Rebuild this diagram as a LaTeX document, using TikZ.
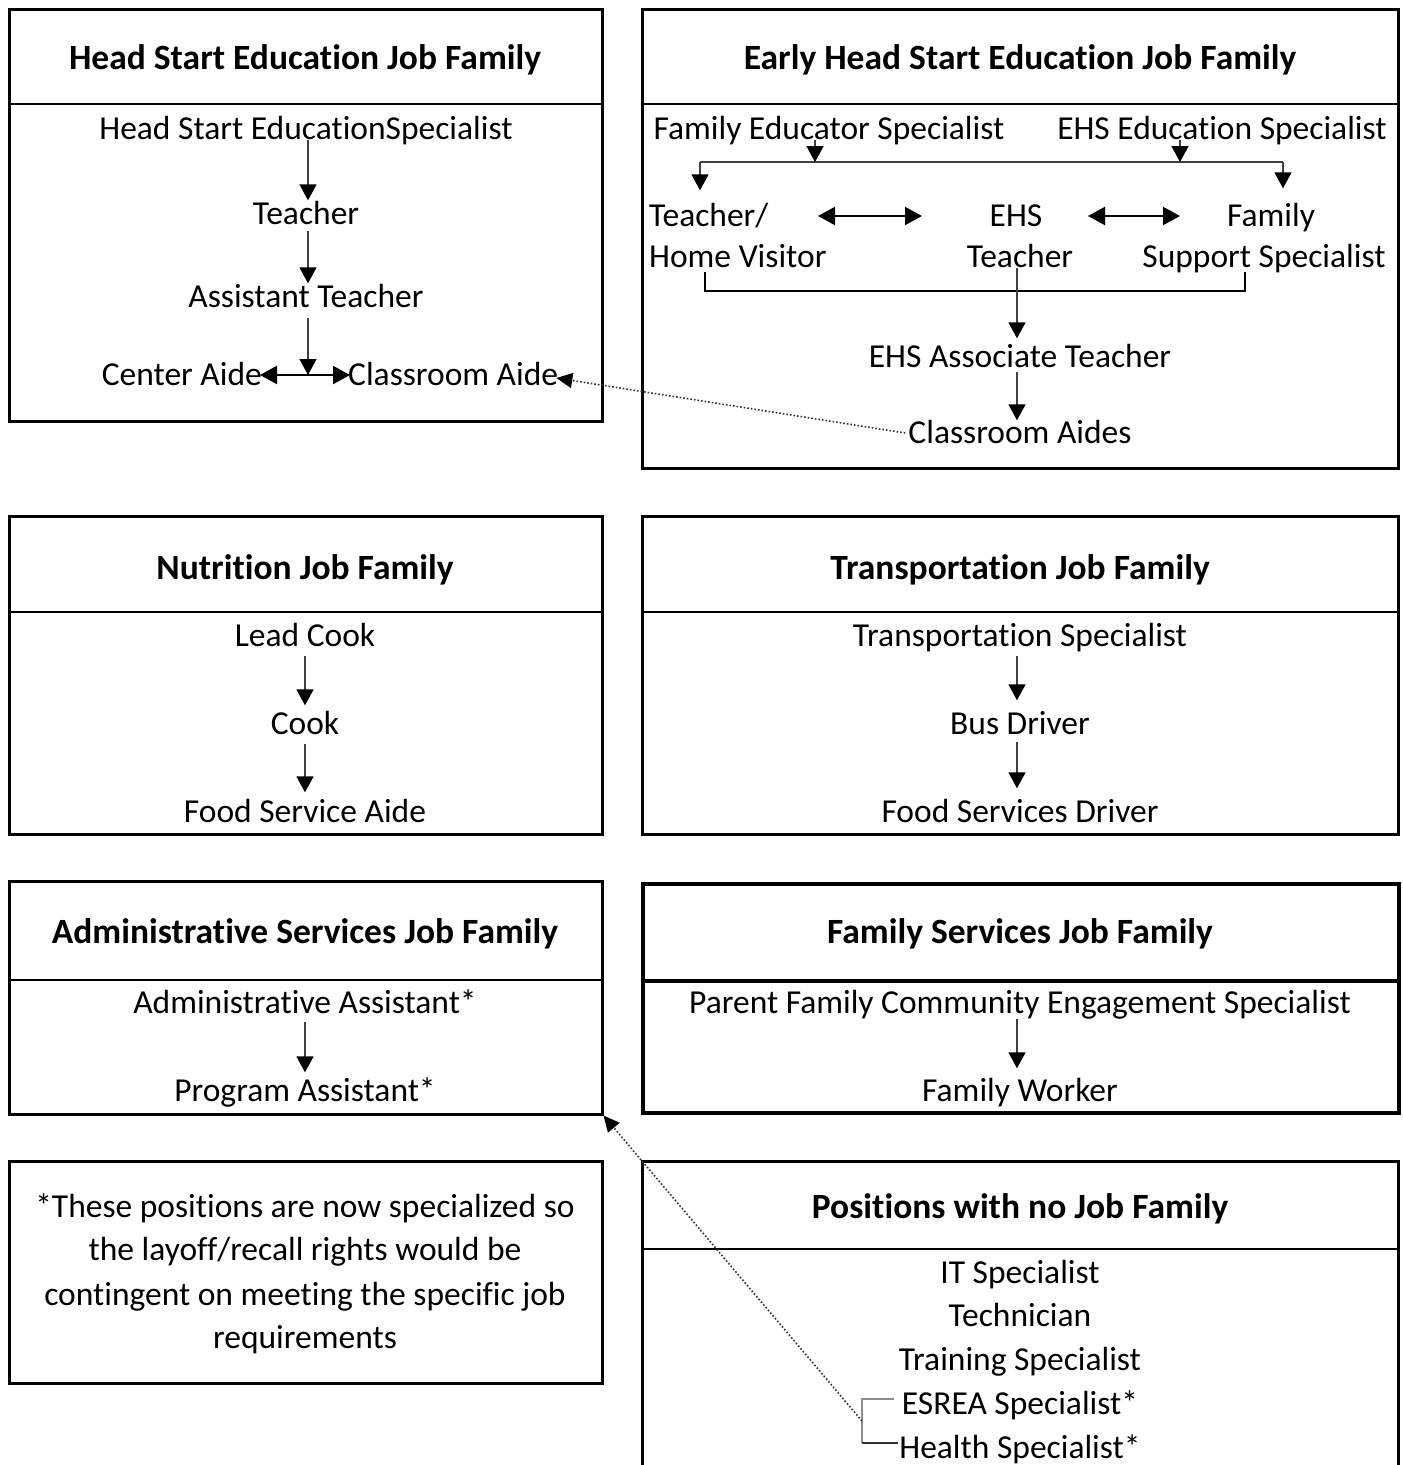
\documentclass[tikz,border=0pt]{standalone}
\usepackage{fontspec}
\setmainfont{Carlito}[Ligatures=NoCommon]
\usetikzlibrary{arrows.meta}
\begin{document}
\begin{tikzpicture}[x=1pt,y=-1pt,
 box/.style={draw,line width=2.5pt,inner sep=0pt,anchor=north west},
 txt/.style={font=\fontsize{33.5}{40}\selectfont,inner sep=0pt,text height=21pt,text depth=0pt},
 ttl/.style={font=\fontsize{35.5}{40}\selectfont\bfseries,inner sep=0pt,text height=22pt,text depth=0pt},
 sep/.style={line width=2pt},
 arr/.style={line width=1.5pt,draw=black!75,-{Triangle[width=17pt,length=16pt,color=black]}},
 darr/.style={line width=2.2pt,{Triangle[width=18pt,length=17pt]}-{Triangle[width=18pt,length=17pt]}},
 dotarr/.style={line width=1.6pt,dotted,draw=black!80,-{Triangle[width=15pt,length=16pt,color=black]}},
 brk/.style={line width=2.2pt,draw=black!45},
]
\useasboundingbox (0,0) rectangle (1403,1465);

% ---------- boxes ----------
\node[box,minimum width=593pt,minimum height=412pt] (hsbox) at (8,8) {};
\node[box,minimum width=756pt,minimum height=459pt] (ehsbox) at (641,8) {};
\node[box,minimum width=593pt,minimum height=318pt] (nutbox) at (8,515) {};
\node[box,minimum width=756pt,minimum height=318pt] (trbox) at (641,515) {};
\node[box,minimum width=593pt,minimum height=233pt] (adbox) at (8,880) {};
\node[box,line width=3.5pt,minimum width=756pt,minimum height=229pt] (fsbox) at (641,882) {};
\node[box,minimum width=593pt,minimum height=222pt] (notebox) at (8,1160) {};
\node[box,minimum width=756pt,minimum height=340pt] (posbox) at (641,1160) {};

% header separators
\draw[sep] (8,104) -- (601,104);
\draw[sep] (641,104) -- (1397,104);
\draw[sep] (8,612) -- (601,612);
\draw[sep] (641,612) -- (1397,612);
\draw[sep] (8,980) -- (601,980);
\draw[line width=3.5pt] (641,981) -- (1397,981);
\draw[sep] (641,1249) -- (1397,1249);

% ---------- titles ----------
\node[ttl] (t1) at (305,58) {Head Start Education Job Family};
\node[ttl] (t2) at (1020,58) {Early Head Start Education Job Family};
\node[ttl] (t3) at (305,568) {Nutrition Job Family};
\node[ttl] (t4) at (1020,568) {Transportation Job Family};
\node[ttl] (t5) at (305,932) {Administrative Services Job Family};
\node[ttl] (t6) at (1020,932) {Family Services Job Family};
\node[ttl] (t8) at (1020,1207) {Positions with no Job Family};

% ---------- Head Start ----------
\node[txt] (hes) at (306,129) {Head Start EducationSpecialist};
\node[txt] (hteach) at (306,214) {Teacher};
\node[txt] (hat) at (306,297) {Assistant Teacher};
\node[txt,anchor=east] (ca) at (262,375) {Center Aide};
\node[txt,anchor=west] (cla) at (348,375) {Classroom Aide};
\coordinate (hx) at (308,0);
\draw[arr] (hes.south -| hx) -- ([yshift=3pt]hteach.north -| hx);
\draw[arr] ([yshift=-6pt]hteach.south -| hx) -- ([yshift=3pt]hat.north -| hx);
\draw[darr] ([xshift=-2pt]ca.east) -- ([xshift=2pt]cla.west);
\draw[arr] ([yshift=-10pt]hat.south -| hx) -- (hx |- ca.east);

% ---------- Early Head Start ----------
\node[txt] (fes) at (829,129) {Family Educator Specialist};
\node[txt] (ees) at (1222,129) {EHS Education Specialist};
\node[txt,anchor=west] (tv1) at (649,216) {Teacher/};
\node[txt,anchor=west] (tv2) at (649,257) {Home Visitor};
\node[txt] (ehs1) at (1016,216) {EHS};
\node[txt] (ehs2) at (1020,257) {Teacher};
\node[txt] (fss1) at (1271,216) {Family};
\node[txt] (fss2) at (1264,257) {Support Specialist};
\node[txt] (eat) at (1020,357) {EHS Associate Teacher};
\node[txt] (cas) at (1020,433) {Classroom Aides};

\coordinate (j1) at (815,162);
\coordinate (j2) at (1180,162);
\coordinate (jl) at (700,162);
\coordinate (jr) at (1283,162);
\draw[line width=1.5pt,draw=black!75] (jl) -- (jr);
\draw[arr] (fes.south -| j1) -- (j1);
\draw[arr] (ees.south -| j2) -- (j2);
\draw[arr] (jl) -- ([yshift=15pt]tv1.north -| jl);
\draw[arr] (jr) -- ([yshift=17pt]fss1.north -| jr);

\coordinate (d1a) at (818,216);
\coordinate (d1b) at (922,216);
\coordinate (d2a) at (1088,216);
\coordinate (d2b) at (1180,216);
\draw[darr] (d1a) -- (d1b);
\draw[darr] (d2a) -- (d2b);

\coordinate (b1) at (705,272);
\coordinate (b2) at (1245,272);
\coordinate (bm) at (1017,291);
\draw[line width=2pt] (b1) -- (b1 |- bm) -- (bm -| b2) -- (b2);
\draw[arr] (ehs2.south -| bm) -- ([yshift=8pt]eat.north -| bm);
\draw[arr] ([yshift=-4pt]eat.south -| bm) -- ([yshift=2pt]cas.north -| bm);

\draw[dotarr] ([xshift=-3pt]cas.west) -- ([xshift=-2pt,yshift=-3pt]cla.east);

% ---------- Nutrition ----------
\node[txt] (lc) at (305,636) {Lead Cook};
\node[txt] (cook) at (305,724) {Cook};
\node[txt] (fsa) at (305,812) {Food Service Aide};
\draw[arr] ([yshift=-9pt]lc.south) -- ([yshift=8pt]cook.north);
\draw[arr] ([yshift=-9pt]cook.south) -- ([yshift=9pt]fsa.north);

% ---------- Transportation ----------
\node[txt] (ts) at (1020,636) {Transportation Specialist};
\node[txt] (bd) at (1020,724) {Bus Driver};
\node[txt] (fsd) at (1020,812) {Food Services Driver};
\draw[arr] ([xshift=-3pt,yshift=-9pt]ts.south) -- ([xshift=-3pt,yshift=13pt]bd.north);
\draw[arr] ([xshift=-3pt,yshift=-7pt]bd.south) -- ([xshift=-3pt,yshift=13pt]fsd.north);

% ---------- Administrative ----------
\node[txt] (aa) at (305,1003) {Administrative Assistant*};
\node[txt] (pa) at (305,1091) {Program Assistant*};
\draw[arr] ([yshift=-8pt]aa.south) -- ([yshift=8pt]pa.north);

% ---------- Family Services ----------
\node[txt] (pfce) at (1020,1003) {Parent Family Community Engagement Specialist};
\node[txt] (fw) at (1020,1091) {Family Worker};
\draw[arr] ([xshift=-3pt,yshift=-5pt]pfce.south) -- ([xshift=-3pt,yshift=12pt]fw.north);

% ---------- Note ----------
\node[txt] (n1) at (305,1207) {*These positions are now specialized so};
\node[txt] (n2) at (305,1250) {the layoff/recall rights would be};
\node[txt] (n3) at (305,1295) {contingent on meeting the specific job};
\node[txt] (n4) at (305,1338) {requirements};

% ---------- Positions with no Job Family ----------
\node[txt] (it) at (1020,1273) {IT Specialist};
\node[txt] (tech) at (1020,1316) {Technician};
\node[txt] (trs) at (1020,1360) {Training Specialist};
\node[txt] (esrea) at (1020,1404) {ESREA Specialist*};
\node[txt] (hsp) at (1020,1448) {Health Specialist*};

\coordinate (bk1) at (894,1399);
\coordinate (bk2) at (862,1399);
\coordinate (bk3) at (862,1443);
\coordinate (bk4) at (898,1443);
\coordinate (bkm) at (862,1421);
\draw[brk] (bk1) -- (bk2) -- (bk3);
\draw[brk,draw=black!80] (bk3) -- (bk4);
\draw[dotarr] (bkm) -- (adbox.south east);
\end{tikzpicture}
\end{document}
